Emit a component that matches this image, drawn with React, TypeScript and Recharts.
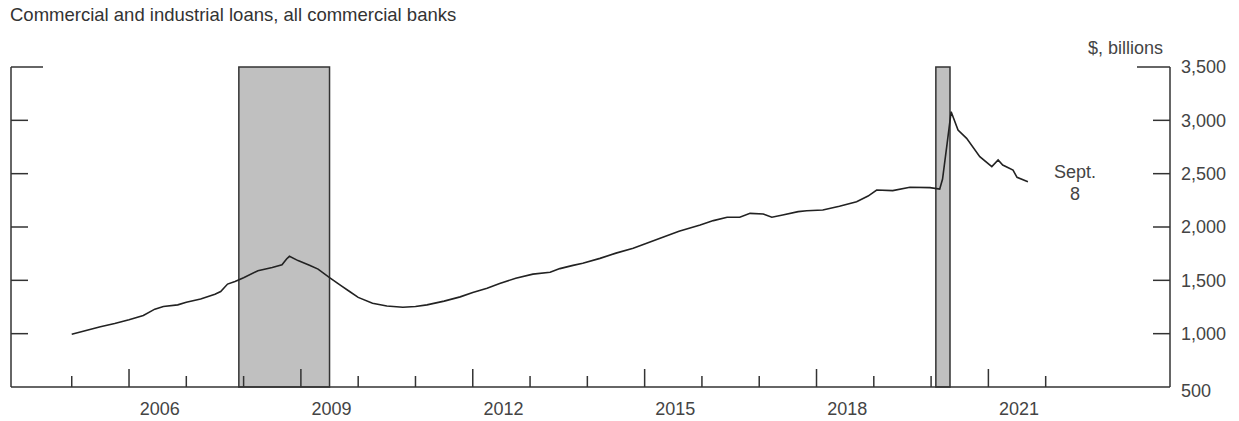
import React from "react";
import {
  LineChart,
  Line,
  XAxis,
  YAxis,
  ReferenceArea,
} from "recharts";

// readings, decimal years
const dates = [
  2005.0, 2005.25, 2005.5, 2005.75, 2006.0, 2006.25, 2006.45, 2006.6, 2006.85,
  2007.0, 2007.25, 2007.5, 2007.6, 2007.72, 2007.85, 2008.0, 2008.25, 2008.5,
  2008.67, 2008.75, 2008.8, 2008.95, 2009.16, 2009.3, 2009.5, 2009.7, 2009.85,
  2010.0, 2010.25, 2010.5, 2010.78, 2011.0, 2011.2, 2011.5, 2011.78, 2012.0,
  2012.25, 2012.47, 2012.75, 2013.05, 2013.35, 2013.52, 2013.75, 2013.92,
  2014.22, 2014.5, 2014.8, 2015.0, 2015.27, 2015.6, 2015.97, 2016.2, 2016.44,
  2016.66, 2016.84, 2017.07, 2017.22, 2017.41, 2017.68, 2017.83, 2018.11,
  2018.4, 2018.7, 2018.9, 2019.05, 2019.33, 2019.63, 2019.98, 2020.15, 2020.2,
  2020.28, 2020.35, 2020.47, 2020.62, 2020.85, 2021.06, 2021.17, 2021.25,
  2021.43, 2021.5, 2021.69,
];

const loans = [
  995, 1030, 1065, 1095, 1130, 1170, 1230, 1255, 1270,
  1295, 1325, 1370, 1395, 1465, 1490, 1525, 1590, 1620,
  1645, 1700, 1725, 1685, 1640, 1605, 1525, 1450, 1395,
  1340, 1285, 1260, 1248, 1255, 1270, 1305, 1345, 1385,
  1425, 1470, 1520, 1558, 1575, 1610, 1640, 1660,
  1706, 1755, 1800, 1840, 1894, 1960, 2019, 2060, 2091,
  2091, 2128, 2122, 2092, 2113, 2144, 2153, 2159,
  2195, 2237, 2290, 2347, 2341, 2372, 2369, 2355, 2450,
  2784, 3081, 2909, 2831, 2659, 2566, 2628, 2581,
  2534, 2466, 2425,
];

const recessions = [
  [2007.917, 2009.5],
  [2020.083, 2020.33],
];

const yearTicks = [
  2005, 2006, 2007, 2008, 2009, 2010, 2011, 2012, 2013, 2014, 2015, 2016,
  2017, 2018, 2019, 2020, 2021, 2022,
];
const labelYears = [2006, 2009, 2012, 2015, 2018, 2021];
const valueTicks = [500, 1000, 1500, 2000, 2500, 3000, 3500];

const data = dates.map((d, i) => ({ date: d, loans: loans[i] }));

const W = 1239;
const H = 421;
const X_MIN = 2003.94;
const X_MAX = 2024.17;
const PLOT_LEFT = 11;
const PLOT_RIGHT = 1170;
const YEAR_PX = (PLOT_RIGHT - PLOT_LEFT) / (X_MAX - X_MIN);

const INK = "#333";
const TEXT = "#444";
const FONT = "'Liberation Sans', Arial, sans-serif";

function XTick(props: any) {
  const { x, y, payload } = props;
  const yr = payload.value;
  const major = labelYears.includes(yr);
  return (
    <g>
      <line
        x1={x}
        x2={x}
        y1={y}
        y2={y - (major ? 18 : 11)}
        stroke={INK}
        strokeWidth={1.5}
      />
      {major && (
        <text
          x={x + YEAR_PX / 2 + 2}
          y={y + 22}
          dy="0.36em"
          textAnchor="middle"
          fontSize={18}
          fontFamily={FONT}
          fill={TEXT}
        >
          {yr}
        </text>
      )}
    </g>
  );
}

function LeftTick(props: any) {
  const { x, y, payload } = props;
  if (payload.value === 500) return <g />;
  const len = payload.value === 3500 ? 32 : 17;
  return (
    <g>
      <line x1={x} x2={x + len} y1={y} y2={y} stroke={INK} strokeWidth={1.5} />
    </g>
  );
}

function RightTick(props: any) {
  const { x, y, payload } = props;
  const v = payload.value;
  const len = v === 3500 ? 33 : 17;
  return (
    <g>
      {v !== 500 && (
        <line x1={x} x2={x - len} y1={y} y2={y} stroke={INK} strokeWidth={1.5} />
      )}
      <text
        x={x + 11}
        y={v === 500 ? y + 4 : y}
        dy="0.36em"
        textAnchor="start"
        fontSize={18}
        fontFamily={FONT}
        fill={TEXT}
      >
        {v.toLocaleString("en-US")}
      </text>
    </g>
  );
}

export default function App() {
  return (
    <div
      style={{
        position: "absolute",
        left: 0,
        top: 0,
        width: W,
        height: H,
        background: "#fff",
        fontFamily: FONT,
      }}
    >
      <div
        style={{
          position: "absolute",
          left: 10,
          top: 5,
          fontSize: 18.5,
          lineHeight: "20px",
          color: "#333",
          whiteSpace: "nowrap",
        }}
      >
        Commercial and industrial loans, all commercial banks
      </div>
      <div
        style={{
          position: "absolute",
          right: W - 1163,
          top: 38,
          fontSize: 18,
          lineHeight: "20px",
          color: TEXT,
          whiteSpace: "nowrap",
        }}
      >
        $, billions
      </div>
      <div
        style={{
          position: "absolute",
          left: 1035,
          width: 80,
          top: 161,
          fontSize: 18,
          lineHeight: "22px",
          color: TEXT,
          textAlign: "center",
        }}
      >
        Sept.
        <br />8
      </div>

      <LineChart
        width={W}
        height={H}
        data={data}
        margin={{ top: 67, right: 9, bottom: 4, left: 10 }}
      >
        <XAxis
          dataKey="date"
          type="number"
          domain={[X_MIN, X_MAX]}
          ticks={yearTicks}
          allowDataOverflow
          height={30}
          tickSize={0}
          tickMargin={0}
          tickLine={false}
          axisLine={{ stroke: INK, strokeWidth: 1.5 }}
          tick={<XTick />}
          interval={0}
        />
        <YAxis
          yAxisId="left"
          orientation="left"
          type="number"
          width={1}
          domain={[500, 3500]}
          allowDataOverflow
          ticks={valueTicks}
          tickSize={0}
          tickMargin={0}
          tickLine={false}
          axisLine={{ stroke: INK, strokeWidth: 1.5 }}
          tick={<LeftTick />}
          interval={0}
        />
        <YAxis
          yAxisId="right"
          orientation="right"
          type="number"
          width={60}
          domain={[500, 3500]}
          allowDataOverflow
          ticks={valueTicks}
          tickSize={0}
          tickMargin={0}
          tickLine={false}
          axisLine={{ stroke: INK, strokeWidth: 1.5 }}
          tick={<RightTick />}
          interval={0}
        />
        {recessions.map(([a, b], i) => (
          <ReferenceArea
            key={i}
            yAxisId="right"
            x1={a}
            x2={b}
            y1={500}
            y2={3500}
            fill="#c0c0c0"
            fillOpacity={1}
            stroke={INK}
            strokeWidth={1.5}
          />
        ))}
        {/* invisible copy so the left axis is tied to data */}
        <Line
          yAxisId="left"
          dataKey="loans"
          stroke="none"
          dot={false}
          activeDot={false}
          isAnimationActive={false}
        />
        <Line
          yAxisId="right"
          dataKey="loans"
          type="linear"
          stroke="#222"
          strokeWidth={1.6}
          dot={false}
          isAnimationActive={false}
        />
      </LineChart>
    </div>
  );
}
